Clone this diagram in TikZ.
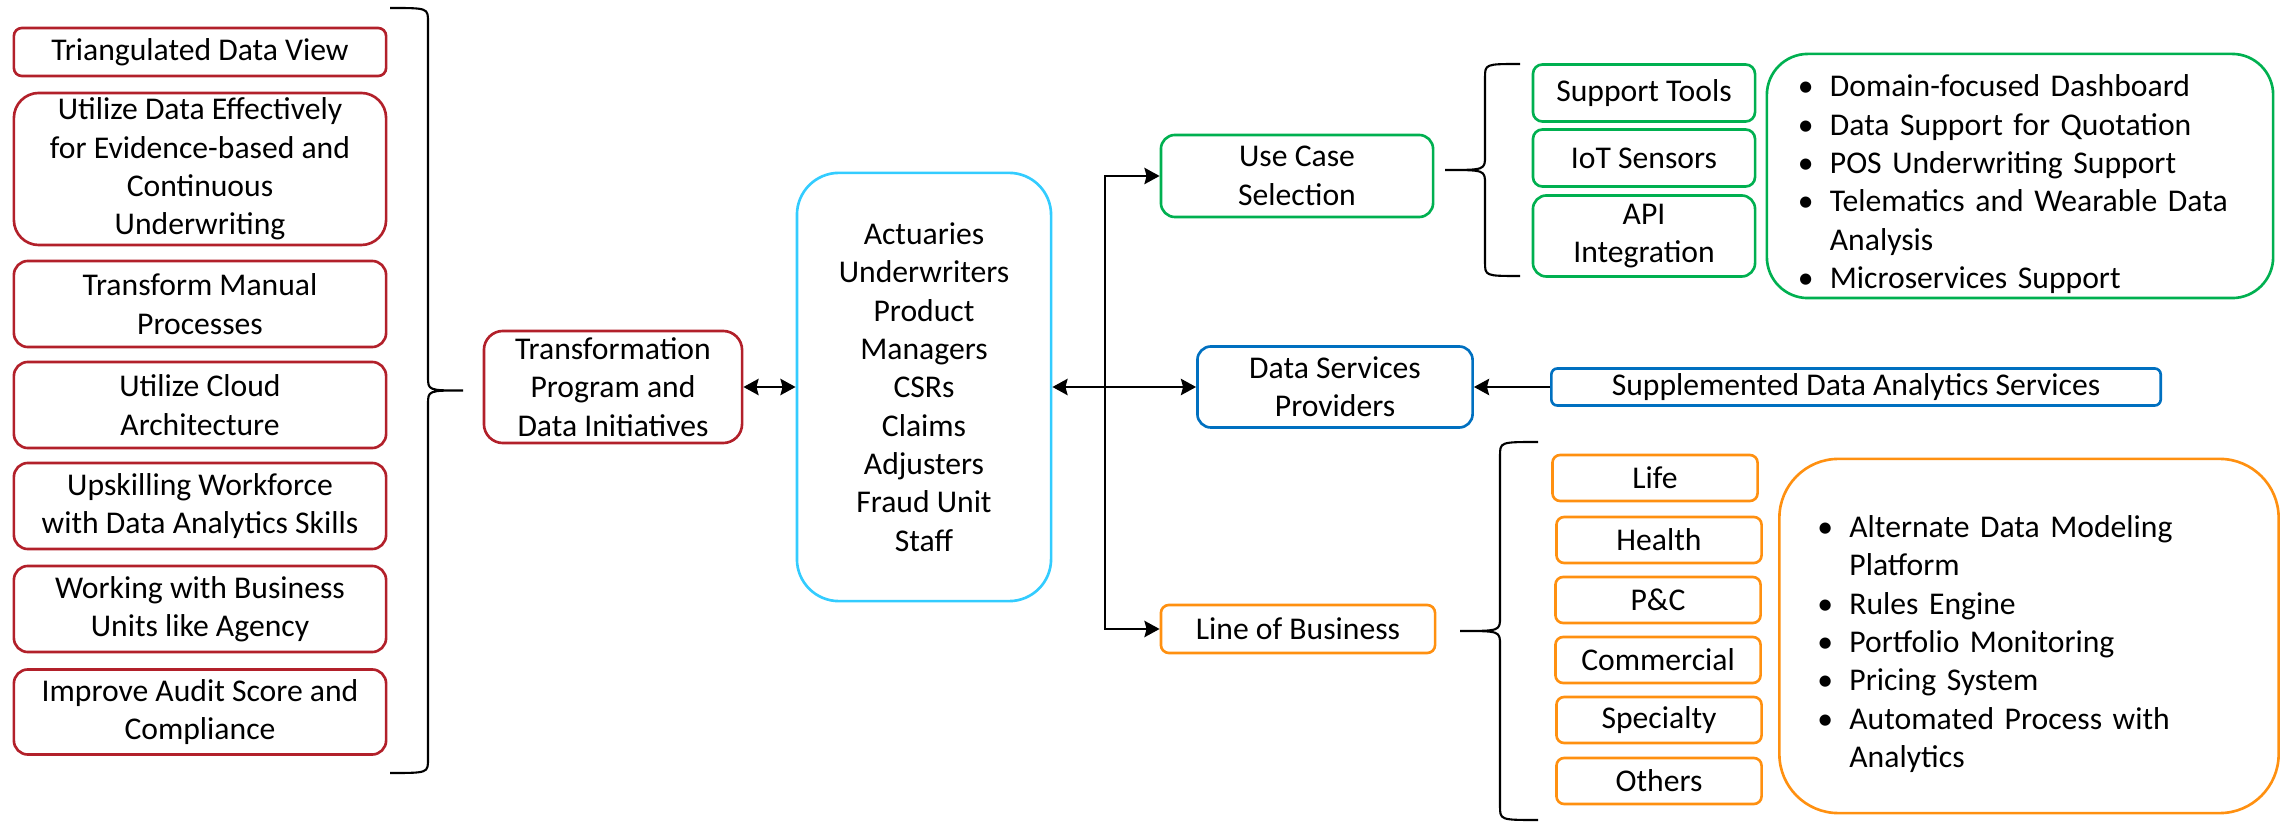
\documentclass[tikz,border=0pt]{standalone}
\usepackage{fontspec}
\setmainfont{Carlito}
\usepackage{tikz}
\usetikzlibrary{arrows.meta, positioning, calc}
\definecolor{rosso}{HTML}{B2202A}
\definecolor{ciano}{HTML}{33CCFF}
\definecolor{verde}{HTML}{00B050}
\definecolor{blu}{HTML}{0070C0}
\definecolor{arancio}{HTML}{FF9010}
\newcommand{\testo}{\fontsize{9}{10.9}\selectfont}
\newlength{\rientro}
\setlength{\rientro}{0.32cm}
\newcommand{\voce}[1]{\par\noindent\hangindent=\rientro\hangafter=1\makebox[\rientro][l]{\textbullet}#1}
% graffa: x estremi, x dorso, x punta, y alto, y basso
\newcommand{\graffa}[5]{
\draw[line width=0.6pt] (#1,#4) .. controls (#2,#4) .. (#2,{#4+14})
    -- (#2,{(#4+#5)/2-14}) .. controls (#2,{(#4+#5)/2}) .. (#3,{(#4+#5)/2})
    .. controls (#2,{(#4+#5)/2}) .. (#2,{(#4+#5)/2+14})
    -- (#2,{#5-14}) .. controls (#2,#5) .. (#1,#5);
}

\begin{document}
\begin{tikzpicture}[x = 0.01cm, y = -0.01cm,
    scatola/.style = {draw, rounded corners = #1, align = center, inner sep = 0pt, line width = 0.75pt, font = \testo},
    freccia/.style = {line width = 0.8pt, -{Stealth[length = 4.3pt, width = 4.6pt, inset = 0.6pt]}},
    doppia/.style = {line width = 0.8pt, {Stealth[length = 4.3pt, width = 4.6pt, inset = 0.6pt]}-{Stealth[length = 4.3pt, width = 4.6pt, inset = 0.6pt]}}]
    \useasboundingbox (0,0) rectangle (2288,825);
    % Obiettivi
    \node[scatola = 0.8mm, draw = rosso, minimum width = 3.72cm, minimum height = 0.48cm] (vista) at (200,52) {Triangulated Data View};
    \node[scatola = 2.5mm, draw = rosso, minimum width = 3.72cm, minimum height = 1.52cm] (evidenza) at (200,169) {Utilize Data Effectively\\for Evidence-based and\\Continuous\\Underwriting};
    \node[scatola = 1.4mm, draw = rosso, minimum width = 3.72cm, minimum height = 0.86cm] (manuale) at (200,304) {Transform Manual\\Processes};
    \node[scatola = 1.4mm, draw = rosso, minimum width = 3.72cm, minimum height = 0.86cm] (cloud) at (200,405) {Utilize Cloud\\Architecture};
    \node[scatola = 1.4mm, draw = rosso, minimum width = 3.72cm, minimum height = 0.86cm] (competenze) at (200,506) {Upskilling Workforce\\with Data Analytics Skills};
    \node[scatola = 1.4mm, draw = rosso, minimum width = 3.72cm, minimum height = 0.86cm] (agenzie) at (200,609) {Working with Business\\Units like Agency};
    \node[scatola = 1.4mm, draw = rosso, minimum width = 3.72cm, minimum height = 0.85cm] (audit) at (200,712) {Improve Audit Score and\\Compliance};
    \graffa{390}{428}{463}{8}{773}
    % Programma e ruoli
    \node[scatola = 1.9mm, draw = rosso, minimum width = 2.58cm, minimum height = 1.12cm] (programma) at (613,387) {Transformation\\Program and\\Data Initiatives};
    \node[scatola = 4.2mm, draw = ciano, minimum width = 2.54cm, minimum height = 4.28cm] (ruoli) at (924,387) {Actuaries\\Underwriters\\Product\\Managers\\CSRs\\Claims\\Adjusters\\Fraud Unit\\Staff};
    \draw[doppia] (programma) -- (ruoli);
    % Rami
    \node[scatola = 1.4mm, draw = verde, minimum width = 2.72cm, minimum height = 0.82cm] (casi) at (1297,176) {Use Case\\Selection};
    \node[scatola = 1.35mm, draw = blu, minimum width = 2.75cm, minimum height = 0.81cm] (fornitori) at (1335,387) {Data Services\\Providers};
    \node[scatola = 0.6mm, draw = blu, minimum width = 6.09cm, minimum height = 0.37cm] (servizi) at (1856,387) {Supplemented Data Analytics Services};
    \node[scatola = 0.8mm, draw = arancio, minimum width = 2.74cm, minimum height = 0.48cm] (linee) at (1298,629) {Line of Business};
    \coordinate (snodo) at (1105,387);
    \draw[doppia] (ruoli) -- (fornitori);
    \draw[freccia] (snodo) |- (casi.west);
    \draw[freccia] (snodo) |- (linee.west);
    \draw[freccia] (servizi) -- (fornitori);
    % Casi d'uso
    \node[scatola = 0.95mm, draw = verde, minimum width = 2.22cm, minimum height = 0.57cm] (strumenti) at (1644,93) {Support Tools};
    \node[scatola = 0.95mm, draw = verde, minimum width = 2.22cm, minimum height = 0.57cm] (sensori) at (1644,158) {IoT Sensors};
    \node[scatola = 1.35mm, draw = verde, minimum width = 2.22cm, minimum height = 0.81cm] (api) at (1644,236) {API\\Integration};
    \graffa{1520}{1485}{1445}{64}{276}
    \node[scatola = 4.1mm, draw = verde, minimum width = 5.06cm, minimum height = 2.44cm, text width = 4.44cm, align = left] (funzioni) at (2020,176) {\voce{Domain-focused Dashboard}\voce{Data Support for Quotation}\voce{POS Underwriting Support}\voce{Telematics and Wearable Data\newline Analysis}\voce{Microservices Support}\par};
    % Linee di business
    \node[scatola = 0.77mm, draw = arancio, minimum width = 2.05cm, minimum height = 0.46cm] (vita) at (1655,478) {Life};
    \node[scatola = 0.77mm, draw = arancio, minimum width = 2.05cm, minimum height = 0.46cm] (salute) at (1659,540) {Health};
    \node[scatola = 0.77mm, draw = arancio, minimum width = 2.05cm, minimum height = 0.46cm] (danni) at (1658,600) {P\&C};
    \node[scatola = 0.77mm, draw = arancio, minimum width = 2.05cm, minimum height = 0.46cm] (commerciale) at (1658,660) {Commercial};
    \node[scatola = 0.77mm, draw = arancio, minimum width = 2.05cm, minimum height = 0.46cm] (speciali) at (1659,720) {Specialty};
    \node[scatola = 0.77mm, draw = arancio, minimum width = 2.05cm, minimum height = 0.46cm] (altri) at (1659,781) {Others};
    \graffa{1538}{1500}{1460}{442}{820}
    \node[scatola = 5.9mm, draw = arancio, minimum width = 4.99cm, minimum height = 3.54cm, text width = 4.23cm, align = left] (piattaforma) at (2029,636) {\voce{Alternate Data Modeling\newline Platform}\voce{Rules Engine}\voce{Portfolio Monitoring}\voce{Pricing System}\voce{Automated Process with\newline Analytics}\par};
\end{tikzpicture}
\end{document}
